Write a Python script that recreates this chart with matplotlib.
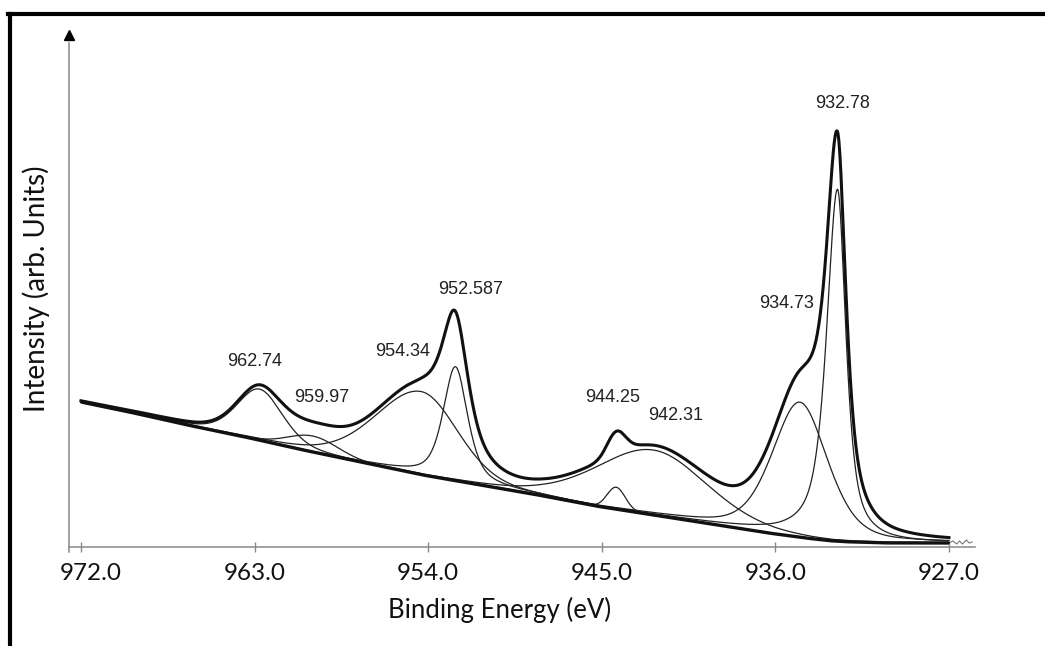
import numpy as np
import matplotlib
matplotlib.use("Agg")
import matplotlib.pyplot as plt
import matplotlib.transforms as mtransforms
from matplotlib.lines import Line2D

# ── peak-fit parameters (Cu 2p region) ──────────────────────────────────────
PEAK_CENTERS  = [932.78, 934.73, 942.31, 944.25, 952.587, 954.34, 959.97, 962.74]
PEAK_HEIGHTS  = [352, 135, 65, 22, 114, 83, 16, 51]
FWHM_HIGH_BE  = [1.35, 3.4, 7.0, 1.1, 1.5, 5.6, 3.0, 2.8]   # side toward higher BE
FWHM_LOW_BE   = [1.05, 3.4, 6.5, 1.1, 1.5, 4.4, 3.0, 2.8]   # side toward lower BE
LORENTZ_FRAC  = [0.75, 0.4, 0.2, 0.0, 0.6, 0.2, 0.0, 0.3]

# background read at a few energies
BG_ENERGY    = [927.0, 930.0, 932.0, 933.0, 934.0, 936.0, 939.0, 942.0, 945.0,
                948.0, 951.0, 954.0, 957.0, 960.0, 963.0, 966.0, 969.0, 972.0]
BG_INTENSITY = [4, 4, 5, 6, 8, 13, 22, 31, 40, 51, 61, 71, 83, 95, 108, 120, 133, 145]

# raw counts past the fitted window
TAIL_ENERGY    = [927.0, 926.8, 926.6, 926.45, 926.3, 926.1, 925.95, 925.8]
TAIL_INTENSITY = [4, 6, 3, 6, 3, 7, 4, 5]

XTICKS = [972.0, 963.0, 954.0, 945.0, 936.0, 927.0]

# label anchor points (energy, intensity)
LABEL_POS = [(932.50, 444), (935.40, 243), (941.15, 131), (944.42, 150),
             (951.78, 258), (955.31, 195), (959.51, 150), (962.98, 186)]


def pseudo_voigt(e, c, h, w_hi, w_lo, eta):
    w = np.where(e >= c, w_hi, w_lo)
    sigma = w / 2.3548
    gamma = w / 2.0
    g = np.exp(-(e - c) ** 2 / (2 * sigma ** 2))
    l = gamma ** 2 / ((e - c) ** 2 + gamma ** 2)
    return h * (eta * l + (1 - eta) * g)


energy = np.linspace(927.0, 972.0, 1801)
bg = np.interp(energy, BG_ENERGY, BG_INTENSITY)
comps = [pseudo_voigt(energy, c, h, wh, wl, eta)
         for c, h, wh, wl, eta in zip(PEAK_CENTERS, PEAK_HEIGHTS, FWHM_HIGH_BE,
                                      FWHM_LOW_BE, LORENTZ_FRAC)]
envelope = bg + np.sum(comps, axis=0)

fig = plt.figure(figsize=(10.45, 6.46), dpi=100)
ax = fig.add_axes([69 / 1045, 99 / 646, 906 / 1045, 512 / 646])

for comp in comps:
    ax.plot(energy, bg + comp, color="#222222", lw=0.9, zorder=3)
ax.plot(energy, bg, color="#111111", lw=2.4, zorder=4, solid_capstyle="butt")
ax.plot(TAIL_ENERGY, TAIL_INTENSITY, color="#777777", lw=0.8, zorder=2)
ax.plot(energy, envelope, color="#111111", lw=2.2, zorder=5)

for (x, y), c in zip(LABEL_POS, PEAK_CENTERS):
    ax.text(x, y, str(c), ha="center", va="center", fontsize=13,
            family="Liberation Sans", color="#222222")

ax.set_xlim(972.62, 925.65)
ax.set_ylim(0, 512)

ax.set_xticks(XTICKS)
ax.set_xticklabels([f"{t:.1f}" for t in XTICKS], family="Lato", fontsize=17.5,
                   color="#111111")
ax.set_yticks([])
ax.tick_params(axis="x", direction="inout", length=7, width=1.0,
               color="#888888", pad=8)
# the leftmost label sits a little to the right of its tick
first = ax.get_xticklabels()[0]
first.set_transform(first.get_transform() +
                    mtransforms.ScaledTranslation(10 / 100, 0, fig.dpi_scale_trans))

for s in ("top", "right", "left"):
    ax.spines[s].set_visible(False)
ax.spines["bottom"].set_color("#888888")
ax.spines["bottom"].set_linewidth(1.1)

# y axis with an arrow head
ax.plot([0, 0], [-0.01, 0.985], transform=ax.transAxes, color="#888888",
        lw=1.1, clip_on=False)
ax.plot([0], [1.0], marker="^", markersize=7, color="black",
        transform=ax.transAxes, clip_on=False)

fig.text(500 / 1045, 1 - 610 / 646, "Binding Energy (eV)", ha="center",
         va="center", family="Lato", fontsize=18.5, color="#111111")
fig.text(36 / 1045, 1 - 289 / 646, "Intensity (arb. Units)", ha="center",
         va="center", rotation=90, family="Lato", fontsize=20,
         color="#111111")

# outer frame
fig.add_artist(Line2D([9.5 / 1045, 9.5 / 1045], [0, 1 - 13.5 / 646],
                      color="black", lw=3.0, transform=fig.transFigure))
fig.add_artist(Line2D([8 / 1045, 1], [1 - 13.5 / 646, 1 - 13.5 / 646],
                      color="black", lw=3.0, transform=fig.transFigure))

fig.savefig("out.png", dpi=100)
